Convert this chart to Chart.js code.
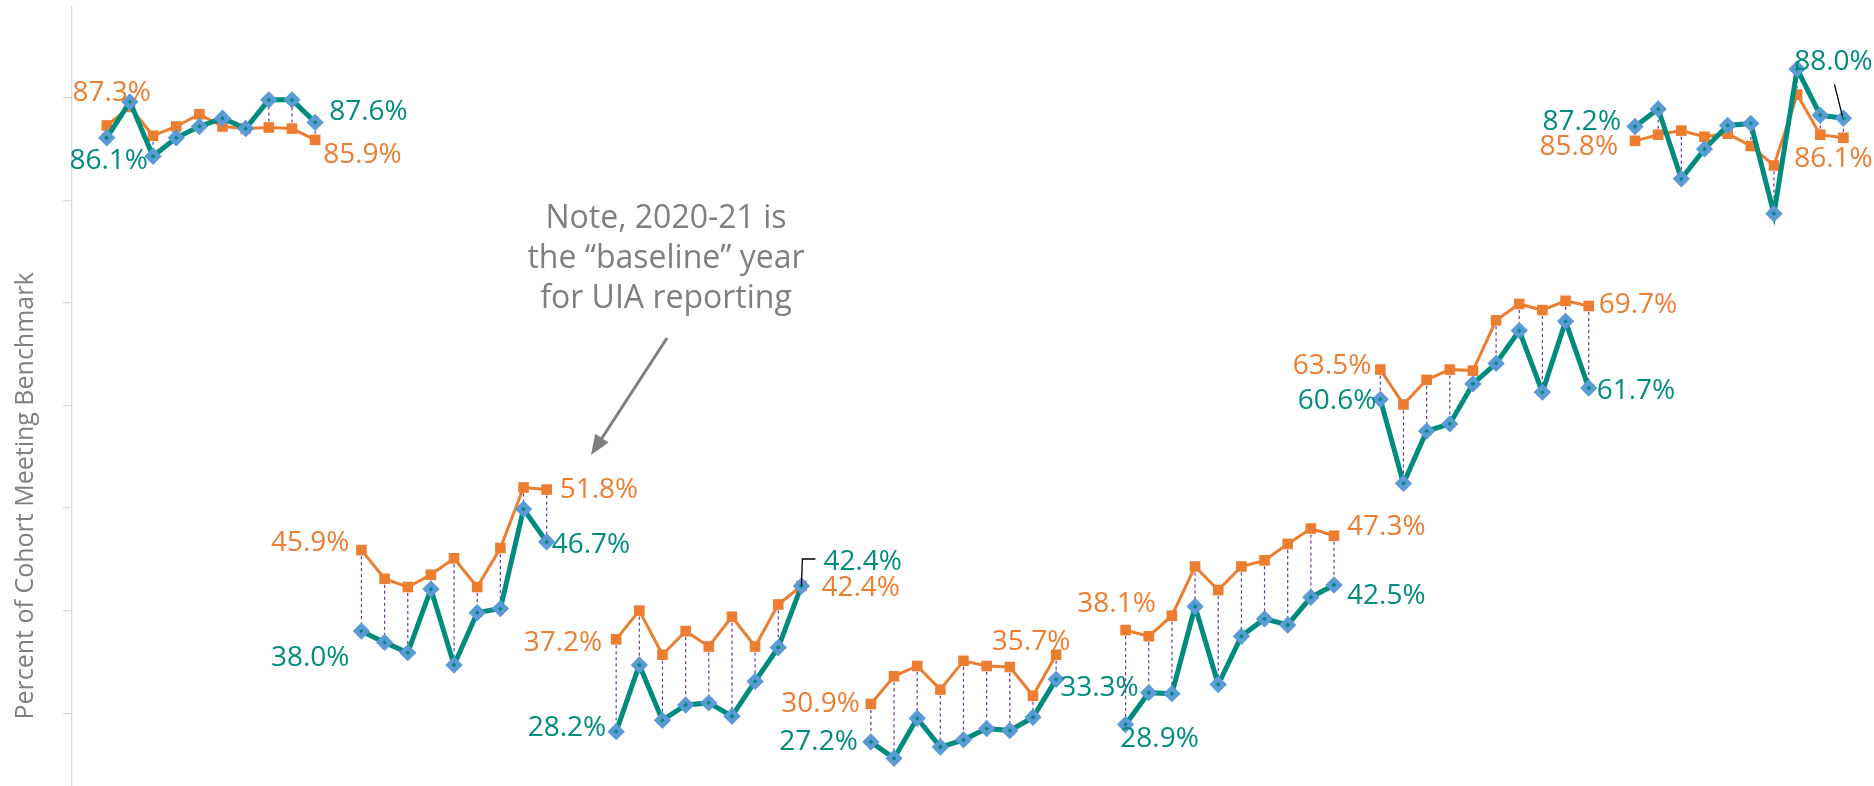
<!DOCTYPE html>
<html>
<head>
<meta charset="utf-8">
<script src="https://cdn.jsdelivr.net/npm/chart.js@4.4.0/dist/chart.umd.min.js"></script>
<style>
  html, body { margin: 0; padding: 0; background: #fff; overflow: hidden; }
  #wrap { width: 1874px; height: 786px; position: relative; }
</style>
</head>
<body>
<div id="wrap"><canvas id="cohortChart"></canvas></div>
<script>
// 7 cohorts, 10 year slots each, one empty slot between cohorts
const groupSize = 10;
const slotGap = 1;

// orange series, one array per cohort
const orangeA = [87.3, 89.1, 86.3, 87.2, 88.4, 87.2, 87.0, 87.1, 87.0, 85.9];
const orangeB = [45.9, 43.1, 42.3, 43.5, 45.1, 42.3, 46.1, 52.0, 51.8];
const orangeC = [37.2, 40.0, 35.7, 38.0, 36.5, 39.4, 36.5, 40.6, 42.4];
const orangeD = [30.9, 33.6, 34.6, 32.3, 35.1, 34.6, 34.5, 31.7, 35.7];
const orangeE = [38.1, 37.5, 39.5, 44.3, 42.0, 44.3, 44.9, 46.5, 48.0, 47.3];
const orangeF = [63.5, 60.1, 62.5, 63.5, 63.4, 68.3, 69.9, 69.3, 70.2, 69.7];
const orangeG = [85.8, 86.4, 86.8, 86.2, 86.5, 85.3, 83.4, 90.3, 86.4, 86.1];

// teal series
const tealA = [86.1, 89.6, 84.3, 86.1, 87.2, 88.0, 87.0, 89.8, 89.8, 87.6];
const tealB = [38.0, 36.9, 35.9, 42.1, 34.7, 39.8, 40.2, 49.9, 46.7];
const tealC = [28.2, 34.7, 29.3, 30.8, 31.0, 29.7, 33.1, 36.4, 42.4];
const tealD = [27.2, 25.6, 29.5, 26.7, 27.4, 28.5, 28.3, 29.6, 33.3];
const tealE = [28.9, 32.0, 31.9, 40.4, 32.8, 37.5, 39.2, 38.6, 41.3, 42.5];
const tealF = [60.6, 52.4, 57.5, 58.2, 62.1, 64.1, 67.3, 61.3, 68.2, 61.7];
const tealG = [87.2, 88.9, 82.1, 85.0, 87.3, 87.5, 78.7, 92.8, 88.3, 88.0];

const yTicks = [30, 40, 50, 60, 70, 80, 90];
const axisTitle = 'Percent of Cohort Meeting Benchmark';
const noteLines = ['Note, 2020-21 is', 'the \u201cbaseline\u201d year', 'for UIA reporting'];

const orangeGroups = [orangeA, orangeB, orangeC, orangeD, orangeE, orangeF, orangeG];
const tealGroups = [tealA, tealB, tealC, tealD, tealE, tealF, tealG];

const ORANGE = '#ed7d31';
const TEAL = '#008b7f';
const GREY = '#7f7f7f';

function slotOf(g, i) { return g * (groupSize + slotGap) + i; }

function buildSeries(groups) {
    var pts = [];
    groups.forEach(function(vals, g) {
        for (var i = 0; i < groupSize; i++) {
            pts.push({ x: slotOf(g, i), y: i < vals.length ? vals[i] : null });
        }
        if (g < groups.length - 1) pts.push({ x: slotOf(g, groupSize), y: null });
    });
    return pts;
}

// where each end-of-cohort value label sits relative to its point
const labelSpots = [
    { s: 'o', g: 0, i: 0,  dx: 5,   dy: -32, align: 'center' },
    { s: 't', g: 0, i: 0,  dx: 2,   dy: 23,  align: 'center' },
    { s: 't', g: 0, i: -1, dx: 14,  dy: -10, align: 'left' },
    { s: 'o', g: 0, i: -1, dx: 8,   dy: 15,  align: 'left' },
    { s: 'o', g: 1, i: 0,  dx: -12, dy: -7,  align: 'right' },
    { s: 't', g: 1, i: 0,  dx: -12, dy: 27,  align: 'right' },
    { s: 'o', g: 1, i: -1, dx: 13,  dy: 0,   align: 'left' },
    { s: 't', g: 1, i: -1, dx: 5,   dy: 3,   align: 'left' },
    { s: 'o', g: 2, i: 0,  dx: -14, dy: 4,   align: 'right' },
    { s: 't', g: 2, i: 0,  dx: -10, dy: -4,  align: 'right' },
    { s: 't', g: 2, i: -1, dx: 22,  dy: -24, align: 'left', leader: 'elbow' },
    { s: 'o', g: 2, i: -1, dx: 20,  dy: 2,   align: 'left' },
    { s: 'o', g: 3, i: 0,  dx: -11, dy: 0,   align: 'right' },
    { s: 't', g: 3, i: 0,  dx: -13, dy: 0,   align: 'right' },
    { s: 'o', g: 3, i: -1, dx: -25, dy: -13, align: 'center' },
    { s: 't', g: 3, i: -1, dx: 4,   dy: 9,   align: 'left' },
    { s: 'o', g: 4, i: 0,  dx: -9,  dy: -26, align: 'center' },
    { s: 't', g: 4, i: 0,  dx: 34,  dy: 15,  align: 'center' },
    { s: 'o', g: 4, i: -1, dx: 13,  dy: -9,  align: 'left' },
    { s: 't', g: 4, i: -1, dx: 13,  dy: 11,  align: 'left' },
    { s: 'o', g: 5, i: 0,  dx: -9,  dy: -4,  align: 'right' },
    { s: 't', g: 5, i: 0,  dx: -4,  dy: 2,   align: 'right' },
    { s: 'o', g: 5, i: -1, dx: 10,  dy: -1,  align: 'left' },
    { s: 't', g: 5, i: -1, dx: 8,   dy: 3,   align: 'left' },
    { s: 't', g: 6, i: 0,  dx: -14, dy: -4,  align: 'right' },
    { s: 'o', g: 6, i: 0,  dx: -17, dy: 6,   align: 'right' },
    { s: 't', g: 6, i: -1, dx: -10, dy: -56, align: 'center', leader: 'slant' },
    { s: 'o', g: 6, i: -1, dx: -10, dy: 21,  align: 'center' }
];

// purple dotted high-low lines between the two series
const dropLines = {
    id: 'dropLines',
    beforeDatasetsDraw: function(chart) {
        const {ctx, scales: {x, y}} = chart;
        ctx.save();
        ctx.strokeStyle = '#7030a0';
        ctx.lineWidth = 1.2;
        ctx.setLineDash([3, 3]);
        orangeGroups.forEach(function(vals, g) {
            vals.forEach(function(v, i) {
                const px = x.getPixelForValue(slotOf(g, i));
                ctx.beginPath();
                ctx.moveTo(px, y.getPixelForValue(v));
                ctx.lineTo(px, y.getPixelForValue(tealGroups[g][i]));
                ctx.stroke();
            });
        });
        ctx.restore();
    }
};

const decorations = {
    id: 'decorations',
    afterDraw: function(chart) {
        const {ctx, scales: {x, y}} = chart;
        ctx.save();

        // value labels
        ctx.font = '28px "Open Sans"';
        ctx.textBaseline = 'middle';
        labelSpots.forEach(function(l) {
            const vals = (l.s === 'o' ? orangeGroups : tealGroups)[l.g];
            const idx = l.i < 0 ? vals.length + l.i : l.i;
            const v = vals[idx];
            const px = x.getPixelForValue(slotOf(l.g, idx));
            const py = y.getPixelForValue(v);
            ctx.fillStyle = l.s === 'o' ? ORANGE : TEAL;
            ctx.textAlign = l.align;
            ctx.fillText(v.toFixed(1) + '%', px + l.dx, py + l.dy);
            if (l.leader) {
                ctx.strokeStyle = '#000';
                ctx.lineWidth = 1.3;
                ctx.beginPath();
                if (l.leader === 'elbow') {
                    ctx.moveTo(px, py);
                    ctx.lineTo(px + 1, py - 27);
                    ctx.lineTo(px + 14, py - 27);
                } else {
                    ctx.moveTo(px - 9, py - 34);
                    ctx.lineTo(px - 1, py - 2);
                }
                ctx.stroke();
            }
        });

        // y axis title
        ctx.save();
        ctx.translate(26, 496);
        ctx.rotate(-Math.PI / 2);
        ctx.font = '25px "Open Sans"';
        ctx.fillStyle = GREY;
        ctx.textAlign = 'center';
        ctx.textBaseline = 'middle';
        ctx.fillText(axisTitle, 0, 0);
        ctx.restore();

        // note + arrow
        ctx.font = '32px "Open Sans"';
        ctx.fillStyle = GREY;
        ctx.textAlign = 'center';
        ctx.textBaseline = 'alphabetic';
        noteLines.forEach(function(t, k) {
            ctx.fillText(t, 666, 228 + k * 40);
        });
        const x1 = 667, y1 = 338, x2 = 591, y2 = 455;
        const ang = Math.atan2(y2 - y1, x2 - x1);
        ctx.strokeStyle = GREY;
        ctx.lineWidth = 3;
        ctx.beginPath();
        ctx.moveTo(x1, y1);
        ctx.lineTo(x2 - 14 * Math.cos(ang), y2 - 14 * Math.sin(ang));
        ctx.stroke();
        ctx.beginPath();
        ctx.moveTo(x2, y2);
        ctx.lineTo(x2 - 20 * Math.cos(ang) + 8 * Math.sin(ang), y2 - 20 * Math.sin(ang) - 8 * Math.cos(ang));
        ctx.lineTo(x2 - 20 * Math.cos(ang) - 8 * Math.sin(ang), y2 - 20 * Math.sin(ang) + 8 * Math.cos(ang));
        ctx.closePath();
        ctx.fill();

        ctx.restore();
    }
};

new Chart(document.getElementById('cohortChart'), {
    type: 'line',
    plugins: [dropLines, decorations],
    data: {
        datasets: [{
            label: 'Teal',
            data: buildSeries(tealGroups),
            order: 1,
            borderColor: TEAL,
            borderWidth: 5,
            pointStyle: 'rectRot',
            pointRadius: 5.5,
            pointBorderWidth: 4.5,
            pointBackgroundColor: TEAL,
            pointBorderColor: '#5b9bd5',
            spanGaps: false,
            tension: 0
        }, {
            label: 'Orange',
            data: buildSeries(orangeGroups),
            order: 2,
            borderColor: ORANGE,
            borderWidth: 3,
            pointStyle: 'rect',
            pointRadius: 7.5,
            pointBorderWidth: 0,
            pointBackgroundColor: ORANGE,
            pointBorderColor: ORANGE,
            spanGaps: false,
            tension: 0
        }]
    },
    options: {
        responsive: true,
        maintainAspectRatio: false,
        animation: false,
        layout: { autoPadding: false, padding: { top: 7, left: 0, right: 0, bottom: 0 } },
        plugins: { legend: { display: false }, tooltip: { enabled: false } },
        scales: {
            x: {
                type: 'linear',
                display: false,
                min: -1.5,
                max: 76.32
            },
            y: {
                min: 22.9,
                max: 98.85,
                afterBuildTicks: function(scale) {
                    scale.ticks = yTicks.map(function(v) { return { value: v }; });
                },
                afterFit: function(scale) { scale.width = 72; },
                ticks: { display: false },
                grid: { drawOnChartArea: false, drawTicks: true, tickLength: 9, color: '#d9d9d9', lineWidth: 1.3 },
                border: { display: true, color: '#d9d9d9', width: 1.3 }
            }
        }
    }
});
</script>
</body>
</html>
